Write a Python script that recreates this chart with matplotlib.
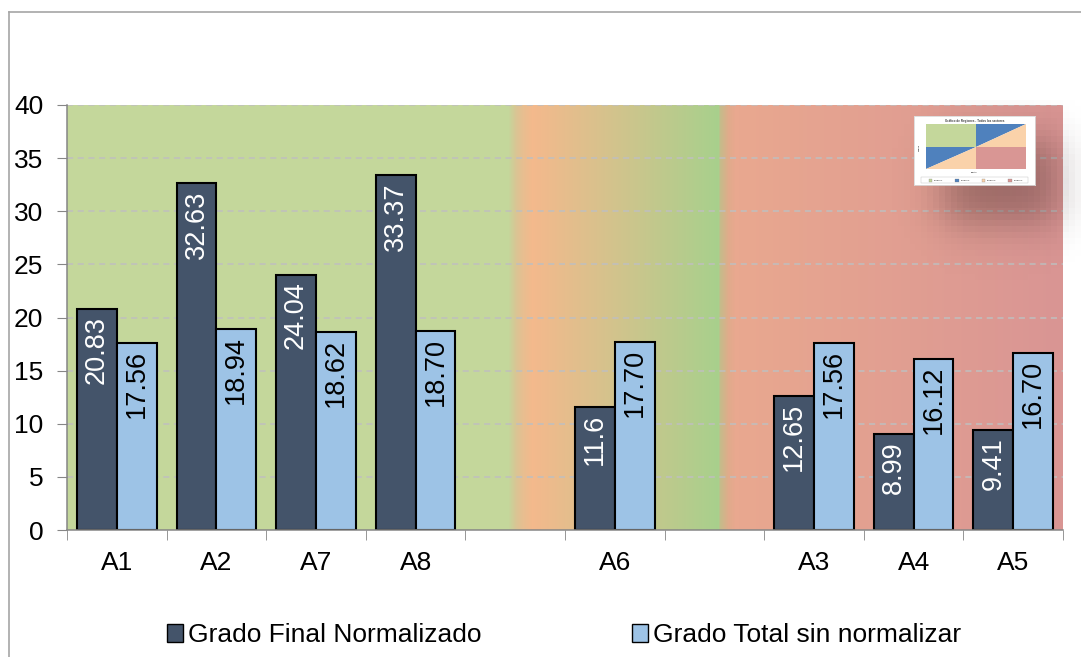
import numpy as np
import matplotlib
matplotlib.use("Agg")
import matplotlib.pyplot as plt
from matplotlib.patches import Patch, Polygon, Rectangle
from matplotlib.lines import Line2D

plt.rcParams['font.family'] = ['Liberation Sans', 'DejaVu Sans']

# ---------------- data ----------------
categories = ["A1", "A2", "A7", "A8", "", "A6", "", "A3", "A4", "A5"]
grado_final = [20.83, 32.63, 24.04, 33.37, np.nan, 11.6, np.nan, 12.65, 8.99, 9.41]
grado_total = [17.56, 18.94, 18.62, 18.70, np.nan, 17.70, np.nan, 17.56, 16.12, 16.70]
label_final = ["20.83", "32.63", "24.04", "33.37", "", "11.6", "", "12.65", "8.99", "9.41"]
label_total = ["17.56", "18.94", "18.62", "18.70", "", "17.70", "", "17.56", "16.12", "16.70"]
series_names = ["Grado Final Normalizado", "Grado Total sin normalizar"]
yticks = [0, 5, 10, 15, 20, 25, 30, 35, 40]

# inset (regions thumbnail) legend labels
inset_legend = ["Región 1", "Región 2", "Región 3", "Región 4"]

DARK = "#44546A"
LIGHT = "#9DC3E6"

W, H = 1081, 657
fig = plt.figure(figsize=(W / 100, H / 100), dpi=100)

def fx(px):
    return px / W

def fy(py):
    return 1 - py / H

# outer chart border (left and top only visible)
fig.add_artist(Line2D([fx(9), fx(9)], [fy(12), 0], color="#A6A6A6", lw=1.2))
fig.add_artist(Line2D([fx(9), 1], [fy(12), fy(12)], color="#A6A6A6", lw=1.2))

L, R, T, B = 67, 1063, 105, 530
ax = fig.add_axes([fx(L), fy(B), fx(R - L), (B - T) / H])

# background gradient
px = np.arange(996)
sp = np.array([0, 441, 449, 456, 465, 651, 653, 661, 668, 671, 996], float)
sc = np.array([(196, 215, 155), (196, 215, 155), (218, 196, 148), (232, 190, 144),
               (244, 185, 140), (168, 208, 141), (197, 187, 138), (224, 171, 139),
               (233, 168, 143), (233, 168, 143), (217, 149, 148)], float)
img = np.zeros((2, 996, 3))
for c in range(3):
    img[:, :, c] = np.interp(px, sp, sc[:, c]) / 255
ax.imshow(img, extent=(-0.5, 9.5, 0, 40), aspect="auto", zorder=0,
          interpolation="nearest")

x = np.arange(len(categories))
bw = 0.4
ax.bar(x - bw / 2, grado_final, bw, color=DARK, edgecolor="black", lw=1.5, zorder=3)
ax.bar(x + bw / 2, grado_total, bw, color=LIGHT, edgecolor="black", lw=1.5, zorder=3)

for i in range(len(categories)):
    if not np.isnan(grado_final[i]):
        ax.annotate(label_final[i], (x[i] - bw / 2, grado_final[i]), xytext=(0, -5),
                    textcoords="offset points", rotation=90, ha="center", va="top",
                    color="white", fontsize=19.5, zorder=4)
    if not np.isnan(grado_total[i]):
        ax.annotate(label_total[i], (x[i] + bw / 2, grado_total[i]), xytext=(0, -5),
                    textcoords="offset points", rotation=90, ha="center", va="top",
                    color="black", fontsize=19.5, zorder=4)

ax.set_xlim(-0.5, 9.5)
ax.set_ylim(0, 40)
ax.set_yticks(yticks)
ax.set_yticklabels([str(v) for v in yticks], fontsize=19)
ax.set_xticks(x)
ax.set_xticklabels(categories, fontsize=19)
ax.set_xticks(np.arange(-0.5, 10, 1), minor=True)
ax.tick_params(axis="x", which="major", length=0, pad=15)
ax.tick_params(axis="x", which="minor", length=7, color="#868686", direction="out")
ax.tick_params(axis="y", length=7, color="#868686", pad=10)
for y in yticks[1:]:
    ax.axhline(y, color="#BFBFBF", lw=1.1, ls=(0, (4, 3)), zorder=1)
for s in ["top", "right"]:
    ax.spines[s].set_visible(False)
for s in ["left", "bottom"]:
    ax.spines[s].set_color("#868686")
    ax.spines[s].set_linewidth(1.1)
    ax.spines[s].set_zorder(5)

# shadow of the inset picture
sx0, sx1, sy0, sy1 = 880, 1081, 100, 280
sh = fig.add_axes([fx(sx0), fy(sy1), fx(sx1 - sx0), (sy1 - sy0) / H], zorder=6)
gx = np.arange(sx0, sx1, 6) + 3
gy = np.arange(sy0, sy1, 6) + 3
XX, YY = np.meshgrid(gx, gy)
s = 24.0
fxs = 0.5 * (np.tanh((XX - 945) / s) - np.tanh((XX - 1060) / s))
fys = 0.5 * (np.tanh((YY - 140) / s) - np.tanh((YY - 222) / s))
alpha = 0.42 * fxs * fys
rgba = np.zeros(alpha.shape + (4,))
rgba[..., 0] = 0.25
rgba[..., 1] = 0.15
rgba[..., 2] = 0.15
rgba[..., 3] = alpha
sh.imshow(rgba, extent=(0, 1, 0, 1), aspect="auto", interpolation="nearest")
sh.axis("off")

# inset picture (thumbnail of regions chart)
ins = fig.add_axes([fx(914), fy(185), fx(121), 69 / H], zorder=7)
ins.set_xlim(0, 1)
ins.set_ylim(0, 1)
ins.set_xticks([])
ins.set_yticks([])
ins.set_facecolor("white")
for sp_ in ins.spines.values():
    sp_.set_color("#D9D9D9")
    sp_.set_linewidth(0.6)
ins.text(0.5, 0.93, "Gráfico de Regiones - Todos los sectores", fontsize=2.2,
         ha="center", va="center", color="#404040", weight="bold")
ins.text(0.045, 0.55, "Región", fontsize=1.6, rotation=90, ha="center", va="center")
ins.text(0.5, 0.18, "Sector", fontsize=1.6, ha="center", va="center")
# legend row
ins.add_patch(Rectangle((0.06, 0.03), 0.88, 0.08, fill=False, lw=0.3, ec="#BFBFBF"))
leg_cols = ["#C4D79B", "#4F81BD", "#FAD2AA", "#D99694"]
for k, (lab, c) in enumerate(zip(inset_legend, leg_cols)):
    xx = 0.12 + k * 0.22
    ins.add_patch(Rectangle((xx, 0.05), 0.03, 0.04, fc=c, ec="#808080", lw=0.2))
    ins.text(xx + 0.045, 0.07, lab, fontsize=1.5, va="center", ha="left")

inner = fig.add_axes([fx(926), fy(169), fx(100), 45 / H], zorder=8)
inner.set_xlim(0, 1)
inner.set_ylim(0, 1)
inner.set_xticks([])
inner.set_yticks([])
for sp_ in inner.spines.values():
    sp_.set_visible(False)
inner.add_patch(Rectangle((0, 0.5), 0.5, 0.5, fc="#C4D79B", ec="none"))
inner.add_patch(Rectangle((0.5, 0), 0.5, 0.5, fc="#D99694", ec="none"))
inner.add_patch(Polygon([(0, 0), (0, 0.5), (0.5, 0.5)], fc="#4F81BD", ec="none"))
inner.add_patch(Polygon([(0.5, 0.5), (0.5, 1), (1, 1)], fc="#4F81BD", ec="none"))
inner.add_patch(Polygon([(0, 0), (0.5, 0), (0.5, 0.5)], fc="#FAD2AA", ec="none"))
inner.add_patch(Polygon([(0.5, 0.5), (1, 0.5), (1, 1)], fc="#FAD2AA", ec="none"))

# legend
handles = [Patch(fc=DARK, ec="black", lw=1.0), Patch(fc=LIGHT, ec="black", lw=1.0)]
fig.legend(handles, series_names, loc="center", bbox_to_anchor=(fx(564), fy(635)),
           ncol=2, frameon=False, fontsize=19, handlelength=0.6, handleheight=0.65,
           handletextpad=0.2, columnspacing=5.7, borderaxespad=0)

fig.savefig("out.png", dpi=100)
